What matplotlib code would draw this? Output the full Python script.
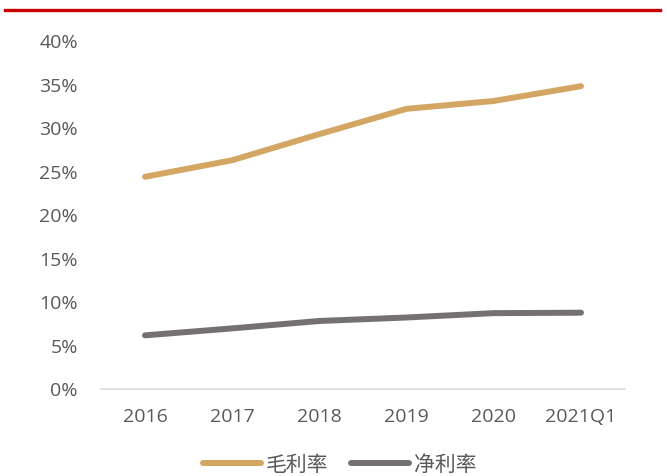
import matplotlib
matplotlib.use("Agg")
import matplotlib.pyplot as plt
from matplotlib.lines import Line2D
from matplotlib.ticker import PercentFormatter

# Profitability by period
periods = ["2016", "2017", "2018", "2019", "2020", "2021Q1"]
gross_margin = [24.3, 26.2, 29.2, 32.1, 33.0, 34.7]   # 毛利率 (%)
net_margin = [6.1, 6.9, 7.75, 8.15, 8.65, 8.7]       # 净利率 (%)
series_names = ["毛利率", "净利率"]
y_ticks = [0, 5, 10, 15, 20, 25, 30, 35, 40]

GOLD = "#D3A763"
GREY = "#767171"
TEXT = "#595959"

W, H = 667, 477
fig = plt.figure(figsize=(W / 100, H / 100), dpi=100)
fig.patch.set_facecolor("white")

ax = fig.add_axes([101.4 / W, 1 - 389.5 / H, (624.6 - 101.4) / W, (389.5 - 41) / H])

x = range(len(periods))
ax.plot(x, gross_margin, color=GOLD, lw=4.3, solid_capstyle="round",
        solid_joinstyle="round", label=series_names[0])
ax.plot(x, net_margin, color=GREY, lw=4.3, solid_capstyle="round",
        solid_joinstyle="round", label=series_names[1])

ax.set_xlim(-0.5, len(periods) - 0.5)
ax.set_ylim(0, 40)
ax.set_yticks(y_ticks)
ax.yaxis.set_major_formatter(PercentFormatter(decimals=0))
ax.set_xticks(list(x))
ax.set_xticklabels(periods)

for side in ("top", "right", "left"):
    ax.spines[side].set_visible(False)
ax.spines["bottom"].set_color("#D9D9D9")
ax.spines["bottom"].set_linewidth(1.1)
ax.tick_params(axis="both", length=0, colors=TEXT)
ax.tick_params(axis="y", pad=17)
ax.tick_params(axis="x", pad=13)
for lbl in ax.get_xticklabels() + ax.get_yticklabels():
    lbl.set_fontfamily("Open Sans")
    lbl.set_fontsize(14)

# Legend below the axis
leg = fig.legend(loc="center", bbox_to_anchor=(340 / W, 1 - 465 / H), ncol=2,
                 frameon=False, handlelength=2.75, handletextpad=0.25,
                 columnspacing=1.1,
                 prop={"family": ["Noto Sans CJK SC", "DejaVu Sans"], "size": 15})
for t in leg.get_texts():
    t.set_color(TEXT)

# Red rule across the top
fig.add_artist(Line2D([5 / W, 660 / W], [1 - 11 / H, 1 - 11 / H],
                      color="#C80000", lw=2.4, transform=fig.transFigure))

fig.savefig("out.png", dpi=100, facecolor="white")
